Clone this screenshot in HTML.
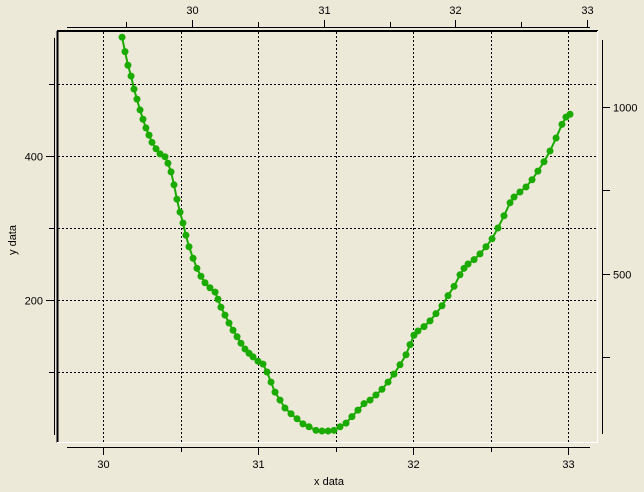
<!DOCTYPE html>
<html><head><meta charset="utf-8"><style>
body{margin:0;background:#ece9d8;}
svg{display:block;font-family:"Liberation Sans",sans-serif;font-size:11px;}
</style></head><body>
<svg width="644" height="492" viewBox="0 0 644 492">
<rect width="644" height="492" fill="#ece9d8"/>
<g id="grid"></g>
<g id="frame">
<line x1="57.5" y1="31" x2="57.5" y2="442.5" stroke="#000" stroke-width="2"/>
<line x1="57" y1="31" x2="598" y2="31" stroke="#000" stroke-width="2"/>
<line x1="597.5" y1="31" x2="597.5" y2="442.5" stroke="#fff" stroke-width="1"/>
<line x1="57" y1="442.5" x2="598" y2="442.5" stroke="#fff" stroke-width="1"/>
</g>
<g id="axes"></g>
<g id="series"></g>
<text x="329" y="485" text-anchor="middle">x data</text>
<text transform="translate(16,240) rotate(-90)" text-anchor="middle">y data</text>
</svg>
<script>
const xs=[30.123,30.142,30.161,30.181,30.2,30.219,30.239,30.258,30.277,30.297,30.316,30.342,30.368,30.4,30.419,30.439,30.458,30.477,30.497,30.516,30.535,30.555,30.581,30.606,30.632,30.658,30.69,30.723,30.742,30.761,30.787,30.813,30.839,30.865,30.89,30.916,30.942,30.968,31.0,31.032,31.058,31.084,31.11,31.142,31.174,31.213,31.252,31.29,31.329,31.374,31.413,31.452,31.49,31.529,31.568,31.606,31.645,31.684,31.723,31.761,31.8,31.839,31.877,31.916,31.955,31.981,32.006,32.032,32.071,32.11,32.148,32.187,32.226,32.265,32.303,32.329,32.355,32.394,32.432,32.471,32.51,32.548,32.587,32.626,32.652,32.69,32.729,32.768,32.806,32.845,32.884,32.923,32.961,32.987,33.013];
const ys=[565,545,526,511,493,479,464,451,439,429,419,410,403,399,390,378,360,340,322,307,290,274,258,244,233,224,217,211,201,190,179,168,158,149,140,132,126,121,115,111,100,86,72,61,50,42,35,28,24,19,18,18,19,24,29,38,47,56,61,68,76,86,97,110,124,138,151,157,163,171,181,192,206,219,235,244,250,256,264,274,285,300,317,335,343,350,357,367,379,392,407,425,444,454,458];
const bottomTicks=[30,30.5,31,31.5,32,32.5,33];
const bottomLabels=["30","","31","","32","","33"];
const topTicks=[29.5,30,30.5,31,31.5,32,32.5,33];
const topLabels=["","30","","31","","32","","33"];
const leftTicks=[100,200,300,400,500];
const leftLabels=["","200","","400",""];
const rightTicks=[250,500,750,1000];
const rightLabels=["","500","","1000"];

const NS="http://www.w3.org/2000/svg";
const X=v=>103+(v-30)*155;
const Y=v=>444-v*0.72;
const XT=v=>192+(v-30)*131.7;
const YR=v=>440.5-v*0.3336;
function el(t,a,p){const e=document.createElementNS(NS,t);for(const k in a)e.setAttribute(k,a[k]);p.appendChild(e);return e;}
const grid=document.getElementById('grid'),axes=document.getElementById('axes'),ser=document.getElementById('series');
const dash={stroke:"#000","stroke-width":1,"stroke-dasharray":"2,2"};
bottomTicks.forEach(v=>{const l=el('line',Object.assign({x1:Math.round(X(v))+.5,x2:Math.round(X(v))+.5,y1:32,y2:442},dash),grid);

});
leftTicks.forEach(v=>{const l=el('line',Object.assign({x1:58,x2:597,y1:Math.round(Y(v))+.5,y2:Math.round(Y(v))+.5},dash),grid);

});
const k={stroke:"#000","stroke-width":1};
const ba=el('g',{},axes);


el('line',Object.assign({x1:67,x2:590,y1:447.5,y2:447.5},k),ba);
bottomTicks.forEach((v,i)=>{const x=Math.round(X(v))+.5;el('line',Object.assign({x1:x,x2:x,y1:447,y2:bottomLabels[i]?455:452},k),ba);
if(bottomLabels[i]){const t=el('text',{x:x,y:468,"text-anchor":"middle"},ba);t.textContent=bottomLabels[i];

}});
const ta=el('g',{},axes);


el('line',Object.assign({x1:67,x2:590,y1:27.5,y2:27.5},k),ta);
topTicks.forEach((v,i)=>{const x=Math.round(XT(v))+.5;el('line',Object.assign({x1:x,x2:x,y1:27,y2:topLabels[i]?20:22},k),ta);
if(topLabels[i]){const t=el('text',{x:x,y:14,"text-anchor":"middle"},ta);t.textContent=topLabels[i];

}});
const la=el('g',{},axes);


el('line',Object.assign({x1:54.5,x2:54.5,y1:38,y2:435},k),la);
leftTicks.forEach((v,i)=>{const y=Math.round(Y(v))+.5;el('line',Object.assign({x1:54,x2:leftLabels[i]?46:49,y1:y,y2:y},k),la);
if(leftLabels[i]){const t=el('text',{x:43,y:y+4,"text-anchor":"end"},la);t.textContent=leftLabels[i];

}});
const ra=el('g',{},axes);


el('line',Object.assign({x1:602.5,x2:602.5,y1:40,y2:434},k),ra);
rightTicks.forEach((v,i)=>{const y=Math.round(YR(v))+.5;el('line',Object.assign({x1:602,x2:610,y1:y,y2:y},k),ra);
if(rightLabels[i]){const t=el('text',{x:613,y:y+4},ra);t.textContent=rightLabels[i];

}});
const pts=xs.map((x,i)=>X(x).toFixed(1)+','+Y(ys[i]).toFixed(1)).join(' ');
const pl=el('polyline',{points:pts,fill:"none",stroke:"#1aaa00","stroke-width":2},ser);


xs.forEach((x,i)=>{const c=el('circle',{cx:X(x),cy:Y(ys[i]),r:3.5,fill:"#1aaa00"},ser);

});
</script>
</body></html>
